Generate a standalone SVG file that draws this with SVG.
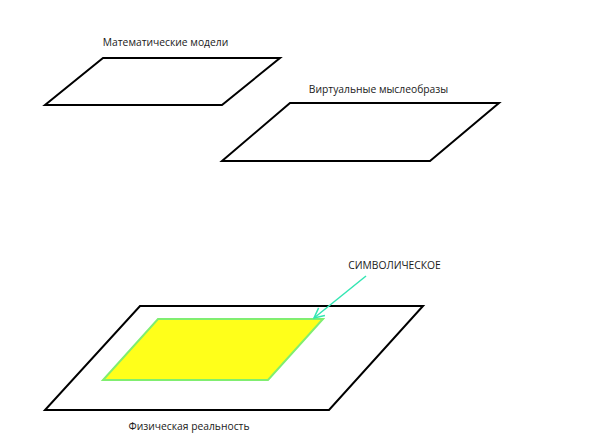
<svg xmlns="http://www.w3.org/2000/svg" width="591" height="444" viewBox="0 0 591 444">
<defs>
<style>
.plane{fill:#ffffff;stroke:#000000;stroke-width:2;stroke-linejoin:miter}
.sym{fill:#ffff1a;stroke:#80ee70;stroke-width:2}
.lbl{font-family:"Open Sans","Liberation Sans",sans-serif;font-size:10.3px;fill:#1a1a1a;text-anchor:middle}
.conn{stroke:#33e6b3;stroke-width:1.5;fill:none}
</style>
<marker id="open" viewBox="0 0 12 12" refX="11" refY="6" markerWidth="12" markerHeight="12" markerUnits="userSpaceOnUse" orient="auto">
<path d="M1,1 L11,6 L1,11" fill="none" stroke="#33e6b3" stroke-width="1.5"/>
</marker>
</defs>
<rect width="591" height="444" fill="#ffffff"/>
<g id="math-models">
<polygon class="plane" points="103,58 280,58 222,105 45,105"/>
<text class="lbl" x="165.5" y="46">Математические модели</text>
</g>
<g id="virtual-images">
<polygon class="plane" points="290,103 499,103 430,161 222,161"/>
<text class="lbl" x="378.5" y="93">Виртуальные мыслеобразы</text>
</g>
<g id="physical-reality">
<polygon class="plane" points="140,306 423,306 329,410 45,410"/>
<text class="lbl" x="189" y="430">Физическая реальность</text>
</g>
<g id="symbolic">
<polygon class="sym" points="158,319 323,319 268,380 103,380"/>
<text class="lbl" x="394.5" y="269">СИМВОЛИЧЕСКОЕ</text>
</g>
<g id="connectors">
<line class="conn" x1="366" y1="276" x2="314" y2="318" marker-end="url(#open)"/>
</g>
</svg>
